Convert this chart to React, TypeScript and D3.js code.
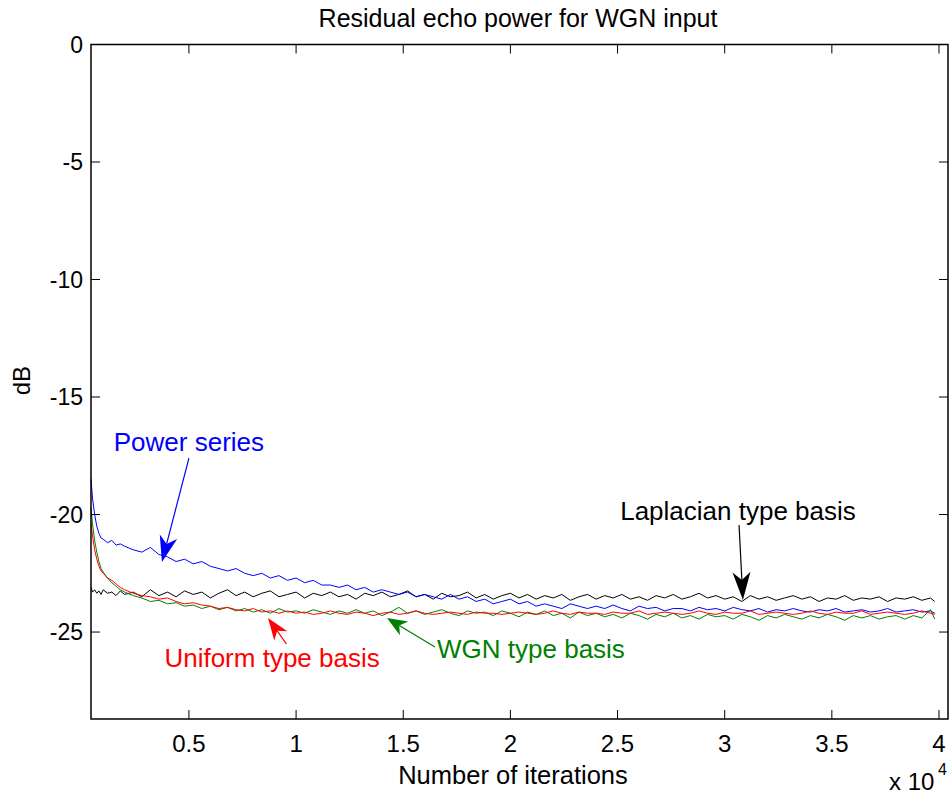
import React from "react";
import * as d3 from "d3";

const iterations = [
  430, 500, 600, 700, 800, 900, 1000, 1200, 1400, 1600, 1800, 2000,
  2400, 2800, 3200, 3600, 4000, 4400, 4800, 5200, 5600, 6000,
  6400, 6800, 7200, 7600, 8000, 8400, 8800, 9200, 9600, 10000,
  10400, 10800, 11200, 11600, 12000, 12400, 12800, 13200, 13600, 14000,
  14400, 14800, 15200, 15600, 16000, 16400, 16800, 17200, 17600, 18000,
  18400, 18800, 19200, 19600, 20000, 20400, 20800, 21200, 21600, 22000,
  22400, 22800, 23200, 23600, 24000, 24400, 24800, 25200, 25600, 26000,
  26400, 26800, 27200, 27600, 28000, 28400, 28800, 29200, 29600, 30000,
  30400, 30800, 31200, 31600, 32000, 32400, 32800, 33200, 33600, 34000,
  34400, 34800, 35200, 35600, 36000, 36400, 36800, 37200, 37600, 38000,
  38400, 38800, 39200, 39600, 39800,
];

const powerSeries = [
  -18.5, -19.3, -20.0, -20.5, -20.8, -21.0, -21.05, -21.2, -21.1, -21.3, -21.25, -21.35,
  -21.5, -21.6, -21.4, -21.7, -21.8, -22.0, -21.9, -22.1, -22.0, -22.2,
  -22.3, -22.4, -22.3, -22.5, -22.6, -22.5, -22.7, -22.6, -22.8, -22.7,
  -22.9, -22.8, -23.0, -23.0, -23.1, -23.0, -23.2, -23.1, -23.3, -23.2,
  -23.3, -23.4, -23.3, -23.5, -23.4, -23.5, -23.6, -23.4, -23.6, -23.5,
  -23.7, -23.6, -23.8, -23.7, -23.6, -23.8, -23.7, -23.9, -23.8, -23.9,
  -24.0, -23.8, -23.9, -24.0, -23.9, -24.0, -23.85, -24.0, -24.1, -23.9,
  -24.0, -23.95, -24.1, -24.0, -24.0, -24.1, -23.95, -24.05, -24.0, -24.1,
  -23.95, -24.05, -24.1, -24.0, -24.15, -24.05, -24.1, -24.0, -24.1, -24.15,
  -24.05, -24.1, -24.0, -24.15, -24.1, -24.05, -24.15, -24.1, -24.0, -24.15,
  -24.1, -24.05, -24.15, -24.1, -24.2,
];

const laplacianBasis = [
  -23.1, -23.3, -23.2, -23.35, -23.25, -23.4, -23.2, -23.35, -23.3, -23.45, -23.25, -23.4,
  -23.3, -23.5, -23.2, -23.45, -23.3, -23.5, -23.25, -23.4, -23.3, -23.55,
  -23.35, -23.2, -23.45, -23.3, -23.5, -23.35, -23.25, -23.5, -23.4, -23.3,
  -23.55, -23.35, -23.45, -23.3, -23.5, -23.4, -23.6, -23.35, -23.45, -23.3,
  -23.5, -23.4, -23.25, -23.5, -23.4, -23.6, -23.35, -23.5, -23.45, -23.3,
  -23.55, -23.4, -23.6, -23.45, -23.35, -23.55, -23.4, -23.6, -23.45, -23.55,
  -23.4, -23.65, -23.5, -23.4, -23.6, -23.45, -23.55, -23.4, -23.6, -23.5,
  -23.65, -23.45, -23.55, -23.4, -23.6, -23.5, -23.35, -23.55, -23.45, -23.6,
  -23.5, -23.7, -23.45, -23.6, -23.5, -23.65, -23.55, -23.45, -23.6, -23.5,
  -23.7, -23.55, -23.6, -23.45, -23.65, -23.55, -23.6, -23.5, -23.7, -23.55,
  -23.6, -23.5, -23.65, -23.55, -23.7,
];

const uniformBasis = [
  -20.4, -20.9, -21.5, -21.9, -22.2, -22.4, -22.5, -22.7, -22.8, -22.95, -23.1, -23.2,
  -23.35, -23.45, -23.5, -23.6, -23.55, -23.7, -23.8, -23.75, -23.85, -23.9,
  -24.0, -23.95, -24.05, -24.1, -24.0, -24.15, -24.1, -24.2, -24.1, -24.2,
  -24.15, -24.25, -24.2, -24.1, -24.2, -24.25, -24.15, -24.2, -24.3, -24.2,
  -24.15, -24.25, -24.2, -24.1, -24.2, -24.25, -24.2, -24.15, -24.2, -24.25,
  -24.15, -24.2, -24.2, -24.25, -24.2, -24.15, -24.2, -24.25, -24.2, -24.1,
  -24.2, -24.25, -24.15, -24.2, -24.2, -24.25, -24.15, -24.2, -24.2, -24.1,
  -24.25, -24.2, -24.15, -24.2, -24.25, -24.2, -24.1, -24.2, -24.25, -24.15,
  -24.2, -24.2, -24.1, -24.25, -24.2, -24.15, -24.2, -24.25, -24.2, -24.1,
  -24.2, -24.25, -24.15, -24.2, -24.2, -24.1, -24.25, -24.2, -24.15, -24.2,
  -24.25, -24.2, -24.1, -24.2, -24.25,
];

const wgnBasis = [
  -19.7, -20.4, -21.1, -21.6, -22.0, -22.3, -22.45, -22.7, -22.9, -23.05, -23.2, -23.3,
  -23.45, -23.55, -23.7, -23.65, -23.8, -23.75, -23.9, -23.85, -24.0, -23.9,
  -24.05, -23.95, -24.1, -24.0, -24.15, -24.05, -24.2, -24.0, -24.15, -24.1,
  -24.2, -24.05, -24.15, -24.25, -24.1, -24.2, -24.05, -24.2, -24.1, -24.3,
  -24.15, -23.95, -24.2, -24.1, -24.25, -24.15, -24.05, -24.2, -24.3, -24.1,
  -24.2, -24.15, -24.3, -24.1, -24.2, -24.35, -24.15, -24.25, -24.1, -24.3,
  -24.2, -24.4, -24.15, -24.3, -24.2, -24.35, -24.25, -24.4, -24.2, -24.3,
  -24.45, -24.25, -24.35, -24.2, -24.4, -24.3, -24.45, -24.25, -24.35, -24.3,
  -24.45, -24.25, -24.35, -24.5, -24.3, -24.4, -24.25, -24.35, -24.45, -24.3,
  -24.4, -24.25, -24.35, -24.5, -24.3, -24.4, -24.3, -24.45, -24.35, -24.3,
  -24.45, -24.3, -24.4, -24.05, -24.45,
];

const xTicks = [0.5, 1, 1.5, 2, 2.5, 3, 3.5, 4];
const yTicks = [0, -5, -10, -15, -20, -25];

const seriesList = [
  { name: "Laplacian type basis", color: "#000000", values: laplacianBasis },
  { name: "Power series", color: "#0000ff", values: powerSeries },
  { name: "WGN type basis", color: "#008000", values: wgnBasis },
  { name: "Uniform type basis", color: "#ff0000", values: uniformBasis },
];

// annotations in data units (x in 1e4 iterations, y in dB)
const annotations = [
  { text: "Power series", color: "#0000ff", tx: 0.5, ty: -17.3, from: [0.5, -17.6], to: [0.374, -22.02], head: 26, hw: 9 },
  { text: "Uniform type basis", color: "#ff0000", tx: 0.888, ty: -26.5, from: [0.955, -25.5], to: [0.869, -24.4], head: 22, hw: 8 },
  { text: "WGN type basis", color: "#008000", tx: 2.096, ty: -26.12, from: [1.648, -25.64], to: [1.424, -24.4], head: 20, hw: 8 },
  { text: "Laplacian type basis", color: "#000000", tx: 3.062, ty: -20.23, from: [3.067, -20.45], to: [3.085, -23.64], head: 28, hw: 9 },
];

const W = 952;
const H = 800;
const left = 91;
const right = 948;
const top = 44.5;
const bottom = 719;
const FONT = "'Liberation Sans', Arial, Helvetica, sans-serif";

export default function App() {
  const x = d3.scaleLinear().domain([0.043, 4.042]).range([left, right]);
  const y = d3.scaleLinear().domain([-28.7, 0]).range([bottom, top]);

  const line = d3
    .line<number>()
    .x((_, i) => x(iterations[i] / 10000))
    .y((d) => y(d));

  const tickLen = 9;

  return (
    <div style={{ position: "absolute", left: 0, top: 0 }}>
      <svg width={W} height={H} style={{ display: "block", background: "#fff" }}>
        <rect x={0} y={0} width={W} height={H} fill="#fff" />
        <text x={518} y={27} textAnchor="middle" fontFamily={FONT} fontSize={25} fill="#000">
          Residual echo power for WGN input
        </text>

        {seriesList.map((s) => (
          <path
            key={s.name}
            d={line(s.values.slice(0, iterations.length)) || ""}
            fill="none"
            stroke={s.color}
            strokeWidth={1}
          />
        ))}

        {/* box */}
        <rect x={left} y={top} width={right - left} height={bottom - top} fill="none" stroke="#000" strokeWidth={1.5} />

        {xTicks.map((t) => (
          <g key={"x" + t}>
            <line x1={x(t)} x2={x(t)} y1={bottom} y2={bottom - tickLen} stroke="#000" strokeWidth={1} />
            <line x1={x(t)} x2={x(t)} y1={top} y2={top + tickLen} stroke="#000" strokeWidth={1} />
            <text x={x(t)} y={752} textAnchor="middle" fontFamily={FONT} fontSize={24} fill="#000">
              {String(t)}
            </text>
          </g>
        ))}
        {yTicks.map((t) => (
          <g key={"y" + t}>
            <line x1={left} x2={left + tickLen} y1={y(t)} y2={y(t)} stroke="#000" strokeWidth={1} />
            <line x1={right} x2={right - tickLen} y1={y(t)} y2={y(t)} stroke="#000" strokeWidth={1} />
            <text x={83} y={y(t) + 8} textAnchor="end" fontFamily={FONT} fontSize={23} fill="#000">
              {String(t)}
            </text>
          </g>
        ))}

        <text x={513} y={784} textAnchor="middle" fontFamily={FONT} fontSize={25.5} fill="#000">
          Number of iterations
        </text>
        <text x={889} y={790} fontFamily={FONT} fontSize={24} fill="#000">
          x 10
        </text>
        <text x={938} y={775} fontFamily={FONT} fontSize={16} fill="#000">
          4
        </text>
        <text
          transform={`translate(30, ${y(-14.3)}) rotate(-90)`}
          textAnchor="middle"
          fontFamily={FONT}
          fontSize={24}
          fill="#000"
        >
          dB
        </text>

        {annotations.map((a) => {
          const x0 = x(a.from[0]);
          const y0 = y(a.from[1]);
          const x1 = x(a.to[0]);
          const y1 = y(a.to[1]);
          const dx = x1 - x0;
          const dy = y1 - y0;
          const len = Math.hypot(dx, dy);
          const ux = dx / len;
          const uy = dy / len;
          const px = -uy;
          const py = ux;
          const bx = x1 - ux * a.head;
          const by = y1 - uy * a.head;
          const nx = x1 - ux * a.head * 0.72;
          const ny = y1 - uy * a.head * 0.72;
          const pts = [
            [x1, y1],
            [bx + px * a.hw, by + py * a.hw],
            [nx, ny],
            [bx - px * a.hw, by - py * a.hw],
          ];
          return (
            <g key={a.text}>
              <line x1={x0} y1={y0} x2={nx} y2={ny} stroke={a.color} strokeWidth={1.2} />
              <polygon points={pts.map((p) => p.join(",")).join(" ")} fill={a.color} />
              <text x={x(a.tx)} y={y(a.ty)} textAnchor="middle" fontFamily={FONT} fontSize={26} fill={a.color}>
                {a.text}
              </text>
            </g>
          );
        })}
      </svg>
    </div>
  );
}
